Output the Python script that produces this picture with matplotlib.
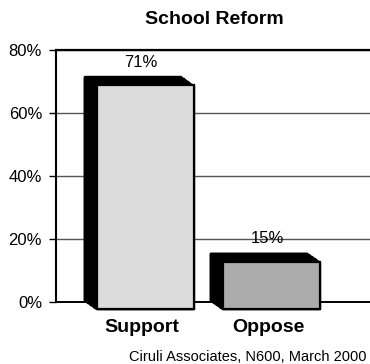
import matplotlib
matplotlib.use("Agg")
import matplotlib.pyplot as plt
import matplotlib.transforms as mtransforms

categories = ["Support", "Oppose"]
values = [71, 15]
labels = ["71%", "15%"]
face_colors = ["#dcdcdc", "#acacac"]
yticks = [0, 20, 40, 60, 80]
ytick_labels = ["0%", "20%", "40%", "60%", "80%"]
title = "School Reform"
caption = "Ciruli Associates, N600, March 2000"

W, H = 370, 364
DPI = 100
plt.rcParams['font.family'] = ['Liberation Sans', 'DejaVu Sans']
fig = plt.figure(figsize=(W / DPI, H / DPI), dpi=DPI)

# axes in pixel coordinates
left_px, top_px, zero_px = 56, 50, 302
ax = fig.add_axes([left_px / W, (H - zero_px) / H, (W - left_px) / W, (zero_px - top_px) / H])
unit = 126.0
first_px = 137.0
x0 = (left_px - first_px) / unit
x1 = x0 + (W - left_px) / unit
ax.set_xlim(x0, x1)
ax.set_ylim(0, 80)

ax.spines["right"].set_visible(False)
ax.spines["left"].set_linewidth(1.5)
ax.spines["top"].set_linewidth(1.6)
ax.spines["bottom"].set_linewidth(1.4)
for s in ax.spines.values():
    s.set_color("black")

ax.set_yticks(yticks)
ax.set_yticklabels(ytick_labels, fontsize=12)
ax.tick_params(axis="y", length=5, width=1, pad=5, colors="black")
ax.yaxis.grid(True, color="#555555", linewidth=1.0, zorder=0)
ax.set_axisbelow(True)

# x ticks (category labels)
xpos = list(range(len(categories)))
ax.set_xticks([p + 5 / unit for p in xpos])
ax.set_xticklabels(categories, fontsize=14, fontweight="bold")
ax.tick_params(axis="x", length=0, pad=12)

bar_w = 97 / unit
back_shift = -5 / unit
dx_px, dy_px = 13, -7
lift = 2
nsteps = 30
for i, (v, fc) in enumerate(zip(values, face_colors)):
    xc = i + back_shift
    # extrusion (black depth)
    for k in range(nsteps + 1):
        f = k / nsteps
        off = mtransforms.ScaledTranslation(dx_px * f / DPI, (lift + (dy_px - lift) * f) / DPI,
                                            fig.dpi_scale_trans)
        b = ax.bar([xc], [v], width=bar_w, color="black", edgecolor="black",
                   linewidth=1.0, zorder=2)
        for p in b.patches:
            p.set_transform(ax.transData + off)
            p.set_clip_on(False)
    # front face
    off = mtransforms.ScaledTranslation(dx_px / DPI, dy_px / DPI, fig.dpi_scale_trans)
    b = ax.bar([xc], [v], width=bar_w, color=fc, edgecolor="black",
               linewidth=1.6, zorder=3)
    for p in b.patches:
        p.set_transform(ax.transData + off)
        p.set_clip_on(False)

for i, (v, lab) in enumerate(zip(values, labels)):
    ax.annotate(lab, xy=(i + 4 / unit, v), xytext=(0, 6), textcoords="offset points",
                ha="center", va="bottom", fontsize=12, zorder=6)

fig.text(214 / W, 1 - 20 / H, title, ha="center", va="center",
         fontsize=14, fontweight="bold")
fig.text(129 / W, 1 - 357 / H, caption, ha="left", va="center", fontsize=10.5)

fig.savefig("out.png", dpi=DPI)
